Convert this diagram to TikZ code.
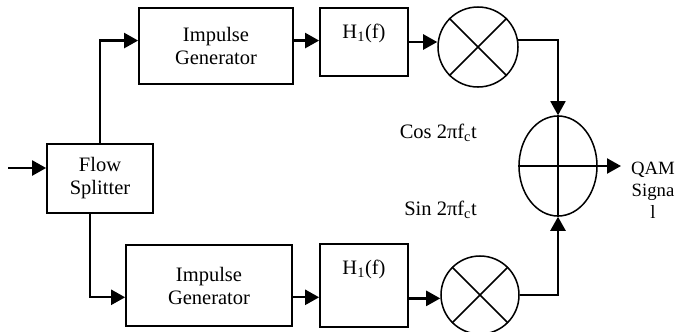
\documentclass[tikz,border=0pt]{standalone}
\usepackage{fontspec}
\setmainfont{Liberation Serif}
\usepackage{tikz}
\usetikzlibrary{shapes.geometric,arrows.meta}
\tikzset{
  blk/.style={draw,line width=1.5pt,inner sep=0pt,align=center},
  hblk/.style={blk,inner ysep=0pt,text height=0.9cm,text depth=#1},
  mixer/.style={draw,circle,line width=1.3pt,inner sep=0pt,minimum size=#1},
  flow/.style={line width=2pt,-{Triangle[length=0.42cm,width=0.45cm]}},
  thinflow/.style={line width=1.5pt,-{Triangle[length=0.42cm,width=0.45cm]}}
}

\begin{document}
\begin{tikzpicture}[x=0.03cm,y=-0.03cm,font=\fontsize{17.5pt}{19.6pt}\selectfont]
    % QAM modulator: flow splitter, two branches, summing node
    \useasboundingbox (0,0) rectangle (678,331);
    \node[blk,minimum width=3.18cm,minimum height=2.07cm] (split) at (100,178.5) {Flow\\Splitter};
    \node[blk,minimum width=4.62cm,minimum height=2.28cm] (ig1) at (216,46) {Impulse\\Generator};
    \node[blk,minimum width=4.98cm,minimum height=2.43cm] (ig2) at (209,285.5) {Impulse\\Generator};
    \node[hblk=1.14cm,minimum width=2.64cm] (h1a) at (364,42) {H\textsubscript{1}(f)};
    \node[hblk=1.59cm,minimum width=2.64cm] (h1b) at (364,285.5) {H\textsubscript{1}(f)};
    \node[mixer=2.4cm] (m1) at (478,47) {};
    \node[mixer=2.34cm] (m2) at (480,295) {};
    \node[draw,ellipse,line width=1.3pt,inner sep=0pt,minimum width=2.34cm,
          minimum height=3.0cm] (sum) at (558,166) {};
    \draw[line width=1.3pt] (m1.45) -- (m1.225) (m1.135) -- (m1.-45);
    \draw[line width=1.3pt] (m2.45) -- (m2.225) (m2.135) -- (m2.-45);
    \draw[line width=1.3pt] (sum.north) -- (sum.south) (sum.west) -- (sum.east);
    \node[anchor=east] (cosl) at (481,133) {Cos 2πf\textsubscript{c}t};
    \node[anchor=east] (sinl) at (481,210) {Sin 2πf\textsubscript{c}t};
    \node[align=center,inner sep=0pt,font=\fontsize{16pt}{18.8pt}\selectfont] (qam) at (653,190) {QAM\\Signa\\l};
    \coordinate (in) at (8,168);
    \coordinate (out) at (621,166);
    \draw[flow] (in) -- (in -| split.west);
    \draw[flow] (split.north) |- (ig1.176);
    \draw[flow] (split.254) |- (ig2.188);
    \draw[flow] (ig1.4) -- (ig1.4 -| h1a.west);
    \draw[flow] (ig2.-8) -- (ig2.-8 -| h1b.west);
    \draw[flow] (h1a.east) -- (h1a.east -| m1.west);
    \draw[flow] (h1b.-16) -- (h1b.-16 -| m2.west);
    \draw[thinflow] (m1.10) -| (sum.north);
    \draw[flow] (m2.east) -| (sum.south);
    \draw[flow] (sum.east) -- (out);
  \end{tikzpicture}
\end{document}
